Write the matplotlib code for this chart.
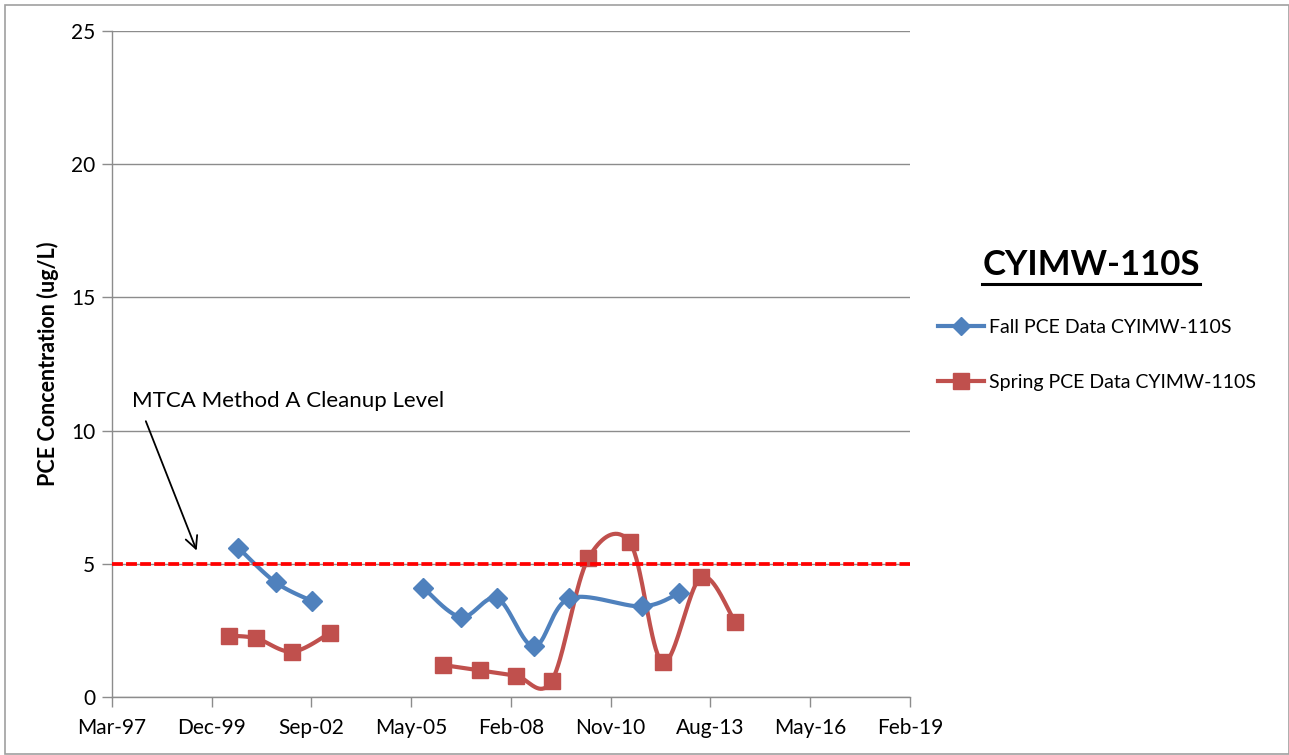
import numpy as np
import pandas as pd
import matplotlib
matplotlib.use("Agg")
from matplotlib import pyplot as plt
import matplotlib.dates as mdates
from matplotlib.lines import Line2D
from matplotlib.patches import Rectangle

plt.rcParams['font.family'] = ['Lato', 'DejaVu Sans']

# data (None = blank cell -> break in the line)
fall_dates = ['2000-08-29', '2001-09-08', '2002-09-06', None,
              '2005-09-26', '2006-10-09', '2007-10-08', '2008-10-10',
              '2009-09-28', '2011-09-27', '2012-10-05']
fall_pce = [5.6, 4.3, 3.6, None, 4.1, 3.0, 3.7, 1.9, 3.7, 3.4, 3.9]

spring_dates = ['2000-05-31', '2001-02-26', '2002-02-21', '2003-03-05', None,
                '2006-04-14', '2007-04-17', '2008-04-12', '2009-04-05',
                '2010-04-07', '2011-05-30', '2012-04-22', '2013-05-12',
                '2014-04-20']
spring_pce = [2.3, 2.2, 1.7, 2.4, None, 1.2, 1.0, 0.8, 0.6, 5.2, 5.8, 1.3,
              4.5, 2.8]

cleanup_level = 5.0
x_start, x_end = '1997-03-11', '2019-02-05'
tick_step_days = 1000
y_max, y_step = 25, 5

blue = '#4F81BD'
red = '#C0504D'
grid_col = '#8C8C8C'


def segments(dates, vals):
    segs, cur = [], []
    for d, v in zip(dates, vals):
        if d is None:
            if cur:
                segs.append(cur)
            cur = []
        else:
            cur.append((mdates.date2num(pd.Timestamp(d)), v))
    if cur:
        segs.append(cur)
    return segs


def smooth(seg, n=40):
    # excel-like smoothed line: catmull-rom as cubic bezier
    p = np.array(seg, dtype=float)
    if len(p) < 3:
        return p[:, 0], p[:, 1]
    ext = np.vstack([p[0], p, p[-1]])
    xs, ys = [], []
    t = np.linspace(0, 1, n)[:, None]
    for i in range(len(p) - 1):
        p0, p1, p2, p3 = ext[i], ext[i + 1], ext[i + 2], ext[i + 3]
        c1 = p1 + (p2 - p0) / 6
        c2 = p2 - (p3 - p1) / 6
        b = ((1 - t) ** 3) * p1 + 3 * ((1 - t) ** 2) * t * c1 \
            + 3 * (1 - t) * t ** 2 * c2 + t ** 3 * p2
        xs.append(b[:, 0])
        ys.append(b[:, 1])
    return np.concatenate(xs), np.concatenate(ys)


fig = plt.figure(figsize=(12.89, 7.55), dpi=100)
ax = fig.add_axes([112 / 1289, 58 / 755, 798 / 1289, 666 / 755])

for dates, vals, col, mk, ms in [(fall_dates, fall_pce, blue, 'D', 10),
                                 (spring_dates, spring_pce, red, 's', 11)]:
    for seg in segments(dates, vals):
        sx, sy = smooth(seg)
        ax.plot(sx, sy, color=col, lw=3, solid_capstyle='round', zorder=3)
        arr = np.array(seg)
        ax.plot(arr[:, 0], arr[:, 1], ls='none', marker=mk, ms=ms,
                color=col, mec=col, zorder=4)

x0 = mdates.date2num(pd.Timestamp(x_start))
x1 = mdates.date2num(pd.Timestamp(x_end))
ax.axhline(cleanup_level, color='#FF0000', lw=2.7, ls=(0, (2.9, 0.85)),
           zorder=5)

ax.set_xlim(x0, x1)
ax.set_ylim(0, y_max)
ax.set_xticks(np.arange(x0, x1 + 1, tick_step_days))
ax.xaxis.set_major_formatter(mdates.DateFormatter('%b-%y'))
ax.set_yticks(np.arange(0, y_max + 1, y_step))
ax.yaxis.grid(True, color=grid_col, lw=1)
ax.set_axisbelow(True)
for s in ['top', 'right']:
    ax.spines[s].set_visible(False)
for s in ['left', 'bottom']:
    ax.spines[s].set_color(grid_col)
    ax.spines[s].set_linewidth(1)
ax.tick_params(colors=grid_col, labelcolor='black', labelsize=15,
               length=7, width=1)
ax.tick_params(axis='x', pad=8)
ax.tick_params(axis='y', pad=5)
ax.set_ylabel('PCE Concentration (ug/L)', fontsize=15.5, fontweight='bold',
              labelpad=9)

# annotation for cleanup level
arrow_tail = (mdates.date2num(pd.Timestamp('1998-02-03')), 10.45)
arrow_head = (mdates.date2num(pd.Timestamp('1999-07-18')), 5.4)
ax.annotate('', xy=arrow_head, xytext=arrow_tail,
            arrowprops=dict(arrowstyle='->', color='black', lw=1.3,
                            mutation_scale=22))
fig.text(132 / 1289, 1 - 401 / 755, 'MTCA Method A Cleanup Level',
         fontsize=16, va='center', ha='left')

# legend on the right
title = fig.text(1091 / 1289, 1 - 265 / 755, 'CYIMW-110S', fontsize=25,
                 fontweight='bold', ha='center', va='center')
fig.canvas.draw()
bb = title.get_window_extent().transformed(fig.transFigure.inverted())
fig.add_artist(Line2D([bb.x0, bb.x1], [bb.y0 - 0.004, bb.y0 - 0.004],
                      transform=fig.transFigure, color='black', lw=2.2))

handles = [Line2D([], [], color=blue, lw=3, marker='D', ms=9),
           Line2D([], [], color=red, lw=3, marker='s', ms=11)]
fig.legend(handles, ['Fall PCE Data CYIMW-110S', 'Spring PCE Data CYIMW-110S'],
           loc='upper left', bbox_to_anchor=(930 / 1289, 1 - 311 / 755),
           frameon=False, fontsize=14, handlelength=2.4, handletextpad=0.25,
           labelspacing=1.95, borderaxespad=0, markerscale=1)

# outer chart border
fig.add_artist(Rectangle((5 / 1289, 1 / 755), 1 - 5 / 1289, 1 - 6 / 755,
                         transform=fig.transFigure, fill=False,
                         edgecolor='#A0A0A0', lw=1.2))

fig.savefig('out.png', dpi=100)
